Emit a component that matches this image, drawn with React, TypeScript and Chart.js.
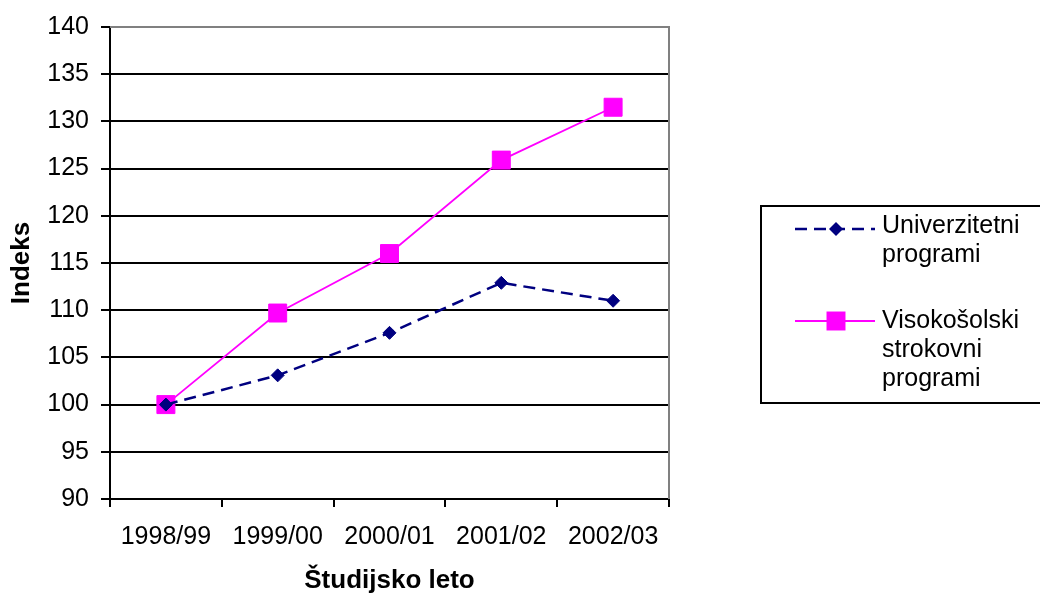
import React, { useEffect, useRef } from "react";
import { Chart, registerables } from "chart.js";

Chart.register(...registerables);

const categories = ["1998/99", "1999/00", "2000/01", "2001/02", "2002/03"];
const univerzitetni = [100, 103.1, 107.6, 112.9, 111.0];
const visokosolski = [100, 109.7, 116.0, 125.9, 131.5];
const seriesNames = ["Univerzitetni programi", "Visokošolski strokovni programi"];
const legendLines = [["Univerzitetni", "programi"], ["Visokošolski", "strokovni", "programi"]];
const yTitle = "Indeks";
const xTitle = "Študijsko leto";

const FONT = "'Liberation Sans', Arial, Helvetica, sans-serif";

const legendPlugin = {
  id: "customLegend",
  afterDraw(chart: any) {
    const ctx = chart.ctx;
    const { left, top, right, bottom } = chart.chartArea;
    ctx.save();
    // gray plot border top / right
    ctx.strokeStyle = "#808080";
    ctx.lineWidth = 2;
    ctx.setLineDash([]);
    ctx.beginPath();
    ctx.moveTo(left, top);
    ctx.lineTo(right, top);
    ctx.lineTo(right, bottom);
    ctx.stroke();

    // legend box
    ctx.strokeStyle = "#000";
    ctx.lineWidth = 2;
    ctx.strokeRect(761, 206, 300, 197);

    const baselines = [[233, 262], [328, 357, 386]];
    const lineYs = [229, 321];
    chart.data.datasets.forEach((ds: any, i: number) => {
      const y = lineYs[i];
      ctx.save();
      ctx.strokeStyle = ds.borderColor;
      ctx.lineWidth = ds.borderWidth;
      ctx.setLineDash(ds.borderDash || []);
      ctx.beginPath();
      ctx.moveTo(795, y);
      ctx.lineTo(875, y);
      ctx.stroke();
      ctx.setLineDash([]);
      ctx.fillStyle = ds.backgroundColor;
      const cx = 836;
      if (ds.pointStyle === "rectRot") {
        const r = ds.pointRadius + 0.5;
        ctx.beginPath();
        ctx.moveTo(cx - r, y);
        ctx.lineTo(cx, y - r);
        ctx.lineTo(cx + r, y);
        ctx.lineTo(cx, y + r);
        ctx.closePath();
        ctx.fill();
      } else {
        const s = ds.pointRadius * Math.SQRT1_2 + 0.5;
        ctx.fillRect(cx - s, y - s, 2 * s, 2 * s);
      }
      ctx.restore();
      ctx.fillStyle = "#000";
      ctx.font = `25px ${FONT}`;
      ctx.textAlign = "left";
      ctx.textBaseline = "alphabetic";
      legendLines[i].forEach((t, j) => ctx.fillText(t, 882, baselines[i][j]));
    });
    ctx.restore();
  },
};

export default function App() {
  const ref = useRef<HTMLCanvasElement>(null);
  useEffect(() => {
    if (!ref.current) return;
    const tickFont = { family: FONT, size: 25 };
    const titleFont = { family: FONT, size: 26, weight: "bold" as const, lineHeight: 1 };
    const chart = new Chart(ref.current, {
      type: "line",
      data: {
        labels: categories,
        datasets: [
          {
            label: seriesNames[0],
            data: univerzitetni,
            borderColor: "#000080",
            backgroundColor: "#000080",
            borderWidth: 2.5,
            borderDash: [12, 7],
            pointStyle: "rectRot",
            pointRadius: 6.5,
            pointBorderWidth: 1,
            tension: 0,
          },
          {
            label: seriesNames[1],
            data: visokosolski,
            borderColor: "#FF00FF",
            backgroundColor: "#FF00FF",
            borderWidth: 1.8,
            pointStyle: "rect",
            pointRadius: 12.7,
            pointBorderWidth: 1,
            tension: 0,
          },
        ],
      },
      options: {
        animation: false,
        responsive: false,
        devicePixelRatio: 1,
        layout: { padding: { left: 0, right: 371, top: 27, bottom: 0 } },
        plugins: { legend: { display: false }, tooltip: { enabled: false } },
        scales: {
          x: {
            offset: true,
            grid: { offset: true, drawOnChartArea: false, tickLength: 8, color: "#000", lineWidth: 2 },
            border: { color: "#000", width: 2 },
            ticks: { font: tickFont, color: "#000", padding: 15, maxRotation: 0 },
            title: { display: true, text: xTitle, font: titleFont, color: "#000", padding: 0 },
            afterFit: (s: any) => {
              s.height = 95;
            },
          },
          y: {
            min: 90,
            max: 140,
            ticks: { stepSize: 5, font: tickFont, color: "#000", padding: 12 },
            grid: { color: "#000", lineWidth: 2, tickLength: 9 },
            border: { color: "#000", width: 2 },
            title: { display: true, text: yTitle, font: titleFont, color: "#000", padding: { top: 9, bottom: 0 } },
            afterFit: (s: any) => {
              s.width = 110;
            },
          },
        },
      },
      plugins: [legendPlugin],
    });
    return () => chart.destroy();
  }, []);
  return (
    <div style={{ position: "absolute", left: 0, top: 0, width: 1040, height: 594, background: "#fff" }}>
      <canvas ref={ref} width={1040} height={594} />
    </div>
  );
}
